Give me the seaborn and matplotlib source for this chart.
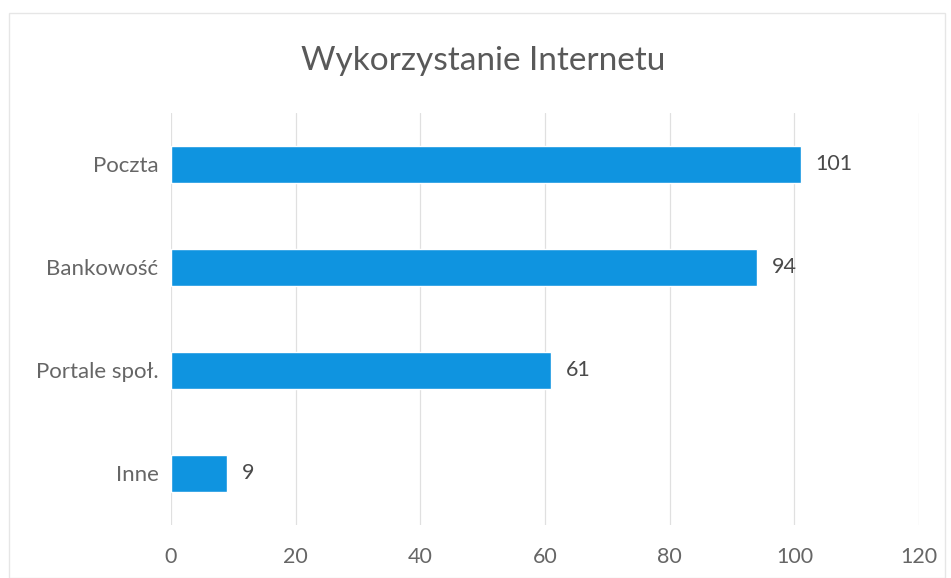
import matplotlib
matplotlib.use("Agg")
import matplotlib.pyplot as plt
import seaborn as sns
import pandas as pd

categories = ["Poczta", "Bankowość", "Portale społ.", "Inne"]
values = [101, 94, 61, 9]
xticks = [0, 20, 40, 60, 80, 100, 120]

df = pd.DataFrame({"kategoria": categories, "liczba": values})

sns.set_style("white")
plt.rcParams["font.family"] = ["Lato", "DejaVu Sans"]

fig = plt.figure(figsize=(9.51, 5.78), dpi=100)
ax = fig.add_axes([0.1798, 0.0917, 0.7866, 0.7128])

sns.barplot(data=df, y="kategoria", x="liczba", color="#0f94e0",
            width=0.35, saturation=1, ax=ax)

ax.set_xlim(0, 120)
ax.set_xticks(xticks)
ax.set_xticklabels([str(t) for t in xticks])
ax.grid(axis="x", color="#e0e0e0", linewidth=0.9)
ax.set_axisbelow(True)
for s in ax.spines.values():
    s.set_visible(False)
ax.tick_params(axis="both", length=0, colors="#666666")
ax.tick_params(axis="x", pad=16, labelsize=15.5)
ax.tick_params(axis="y", pad=9, labelsize=16)
ax.set_xlabel("")
ax.set_ylabel("")

for i, v in enumerate(values):
    ax.text(v + 2.4, i, str(v), va="center", ha="left", fontsize=15.5, color="#4a4a4a")

fig.text(0.508, 0.895, "Wykorzystanie Internetu", ha="center", va="center",
         fontsize=24, color="#595959")

border = plt.Rectangle((0.009, 0.0), 0.985, 0.978, transform=fig.transFigure,
                       fill=False, edgecolor="#e6e6e6", linewidth=1)
fig.patches.append(border)

fig.savefig("out.png", dpi=100)
